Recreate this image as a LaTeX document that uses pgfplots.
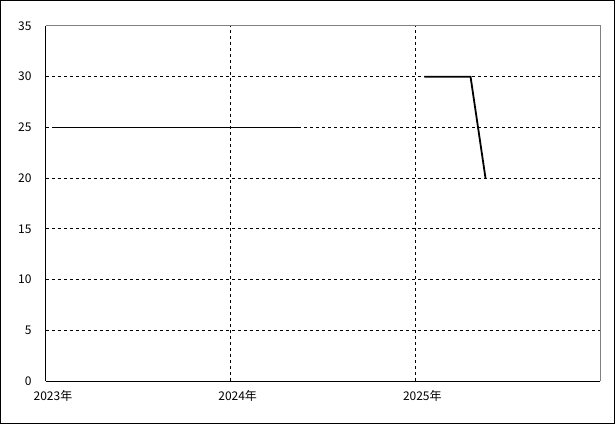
\documentclass[border=0pt]{standalone}
\usepackage{pgfplots}
\pgfplotsset{compat=1.18}
\usepackage{fontspec}
\setmainfont{Noto Sans CJK JP}
\begin{document}
\begin{tikzpicture}
\begin{axis}[
  scale only axis,
  width=554bp, height=355bp,
  xmin=0, xmax=3, ymin=0, ymax=35,
  xtick={1,2}, xticklabels={2024年,2025年},
  extra x ticks={0}, extra x tick labels={2023年},
  ytick={5,10,...,30},
  extra y ticks={0,35},
  extra tick style={grid=none},
  major tick length=0pt,
  axis lines=left,
  axis line style={black, line width=1bp, -},
  grid=major,
  major grid style={black, line width=0.8bp, dash pattern=on 3bp off 3bp},
  tick label style={font=\fontsize{12bp}{14bp}\selectfont},
  xticklabel style={xshift=7bp, yshift=-6bp},
  yticklabel style={xshift=-11bp},
  /pgf/number format/assume math mode=true,
  clip=false,
]
\addplot[black, line width=1.8bp] coordinates {(0.033,25) (1.375,25)};
\addplot[black, line width=1.8bp] coordinates {(2.049,30) (2.299,30) (2.38,20)};
\draw[gray, line width=1bp] (rel axis cs:0,1) -- (rel axis cs:1,1) -- (rel axis cs:1,0);
\end{axis}
\draw[black, line width=1bp] (-45.5bp,-42.5bp) rectangle (568.5bp,380.5bp);
\end{tikzpicture}
\end{document}
